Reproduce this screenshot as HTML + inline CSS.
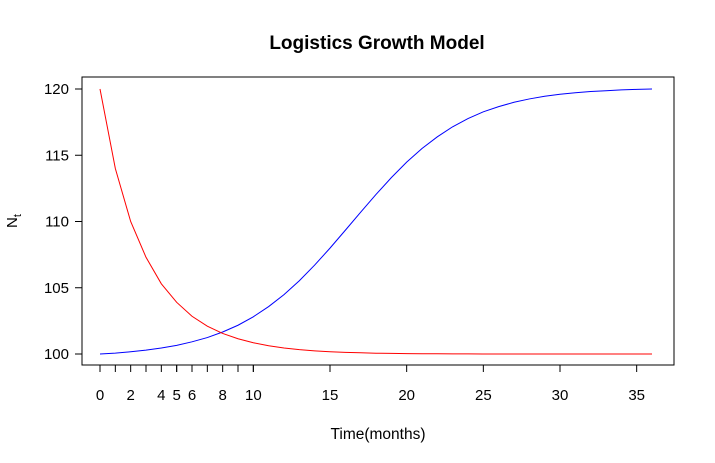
<!DOCTYPE html>
<html><head><meta charset="utf-8"><style>
body{margin:0;background:#fff}
svg{display:block;font-family:"Liberation Sans",Arial,sans-serif}
</style></head><body>
<svg id="chart" width="715" height="463">
<text x="377" y="49" text-anchor="middle" font-size="19" font-weight="bold">Logistics Growth Model</text>
<rect x="82" y="77" width="592" height="288" fill="none" stroke="#000" stroke-width="1"/>
<g id="xaxis"></g>
<g id="yaxis"></g>
<g id="series"></g>
<text x="378" y="439" text-anchor="middle" font-size="15.5">Time(months)</text>
<text transform="translate(17,221) rotate(-90)" text-anchor="middle" font-size="15">N<tspan font-size="11" dy="4">t</tspan></text>
</svg>
<script>
const months = [0,1,2,3,4,5,6,7,8,9,10,11,12,13,14,15,16,17,18,19,20,21,22,23,24,25,26,27,28,29,30,31,32,33,34,35,36];
const growthValues = [100.0,100.07,100.17,100.29,100.45,100.65,100.92,101.24,101.66,102.17,102.81,103.58,104.48,105.53,106.71,107.99,109.34,110.70,112.04,113.31,114.48,115.51,116.39,117.15,117.77,118.28,118.67,119.00,119.25,119.45,119.60,119.72,119.81,119.87,119.93,119.97,120.0];
const decayValues = [120,114,110.0,107.3,105.3,103.9,102.85,102.1,101.55,101.15,100.85,100.62,100.45,100.33,100.24,100.17,100.12,100.09,100.06,100.05,100.03,100.02,100.02,100.01,100.01,100,100,100,100,100,100,100,100,100,100,100,100];
const xTicks = [0,5,10,15,20,25,30,35];
const xMinorTicks = [0,1,2,3,4,5,6,7,8,9,10];
const xMinorLabels = [0,2,4,5,6,8,10];
const yTicks = [100,105,110,115,120];

const NS = "http://www.w3.org/2000/svg";
function xs(v){return 100 + v*(552/36);}
function ys(v){return 354 - (v-100)*(265/20);}
function mk(tag, attrs, parent){const e=document.createElementNS(NS,tag);for(const k in attrs)e.setAttribute(k,attrs[k]);parent.appendChild(e);return e;}

const xa=document.getElementById('xaxis');
mk('line',{x1:xs(0),x2:xs(35),y1:365,y2:365,stroke:'#000'},xa);
xTicks.forEach(t=>{
  const l=mk('line',{x1:xs(t),x2:xs(t),y1:365,y2:372,stroke:'#000'},xa);
  
  
  if(t>10){
    const tx=mk('text',{x:xs(t),y:400,'text-anchor':'middle','font-size':15},xa);
    tx.textContent=t;
    
    
  }
});
xMinorTicks.forEach(t=>{
  const l=mk('line',{x1:xs(t),x2:xs(t),y1:365,y2:372,stroke:'#000'},xa);
  
  
});
xMinorLabels.forEach(t=>{
  const tx=mk('text',{x:xs(t),y:400,'text-anchor':'middle','font-size':15},xa);
  tx.textContent=t;
  
  
});

const ya=document.getElementById('yaxis');
mk('line',{x1:82,x2:82,y1:ys(100),y2:ys(120),stroke:'#000'},ya);
yTicks.forEach(v=>{
  const l=mk('line',{x1:75,x2:82,y1:ys(v),y2:ys(v),stroke:'#000'},ya);
  
  
  const tx=mk('text',{x:69,y:ys(v)+5,'text-anchor':'end','font-size':15},ya);
  tx.textContent=v;
  
  
});

const sg=document.getElementById('series');
function pts(vals){return months.map((m,i)=>xs(m).toFixed(2)+','+ys(vals[i]).toFixed(2)).join(' ');}
const blue=mk('polyline',{points:pts(growthValues),fill:'none',stroke:'#0000ff','stroke-width':1},sg);


const red=mk('polyline',{points:pts(decayValues),fill:'none',stroke:'#ff0000','stroke-width':1},sg);


</script>
</body></html>
